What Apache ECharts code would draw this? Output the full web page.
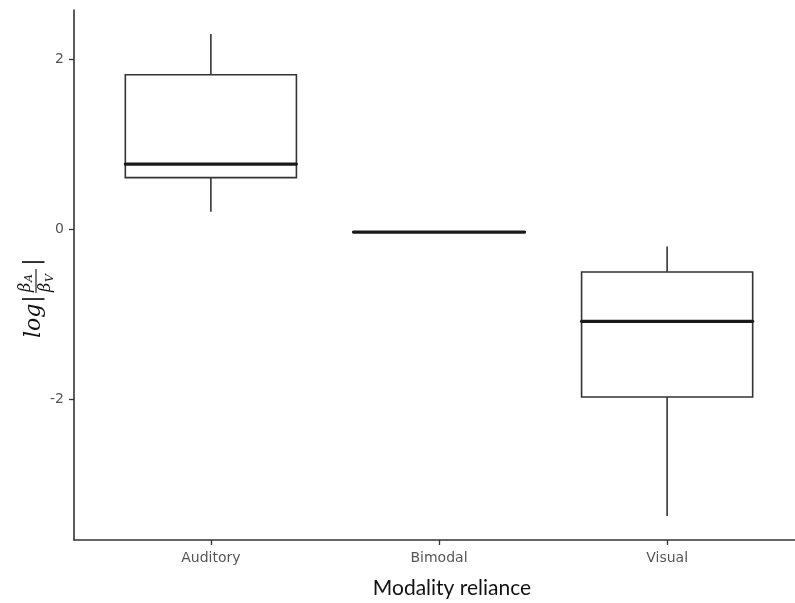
<!DOCTYPE html>
<html>
<head>
<meta charset="utf-8">
<script src="https://cdn.jsdelivr.net/npm/echarts@6/dist/echarts.min.js"></script>
<style>
  html, body { margin: 0; padding: 0; background: #fff; }
  #chart { width: 795px; height: 603px; }
</style>
</head>
<body>
<div id="chart"></div>
<script>
// Modality groups and their box-plot summaries of log|βA/βV|
const categories = ['Auditory', 'Bimodal', 'Visual'];
const lowerWhisker = [0.21, -0.03, -3.37];
const firstQuartile = [0.61, -0.03, -1.97];
const medians = [0.77, -0.03, -1.08];
const thirdQuartile = [1.82, -0.03, -0.50];
const upperWhisker = [2.30, -0.03, -0.20];
const yTicks = [-2, 0, 2];
const xPositions = [1, 2, 3];

const boxData = categories.map((c, i) => [
  xPositions[i], lowerWhisker[i], firstQuartile[i], medians[i], thirdQuartile[i], upperWhisker[i]
]);

const chart = echarts.init(document.getElementById('chart'), null, { renderer: 'canvas' });

function renderBox(params, api) {
  const x = api.value(0);
  const lo = api.coord([x, api.value(1)]);
  const q1 = api.coord([x, api.value(2)]);
  const med = api.coord([x, api.value(3)]);
  const q3 = api.coord([x, api.value(4)]);
  const hi = api.coord([x, api.value(5)]);
  const half = api.size([0.75, 0])[0] / 2;
  const edge = { stroke: '#333333', lineWidth: 1.6 };
  return {
    type: 'group',
    children: [
      { type: 'line', shape: { x1: hi[0], y1: hi[1], x2: q3[0], y2: q3[1] }, style: edge },
      { type: 'line', shape: { x1: q1[0], y1: q1[1], x2: lo[0], y2: lo[1] }, style: edge },
      { type: 'rect', shape: { x: q3[0] - half, y: q3[1], width: half * 2, height: q1[1] - q3[1] },
        style: { fill: '#ffffff', stroke: '#333333', lineWidth: 1.6 } },
      { type: 'line', shape: { x1: med[0] - half, y1: med[1], x2: med[0] + half, y2: med[1] },
        style: { stroke: '#1a1a1a', lineWidth: 3.2, lineCap: 'round' } }
    ]
  };
}

const labelFont = 'DejaVu Sans';
const mathFont = "'DejaVu Serif', serif";

const option = {
  backgroundColor: '#ffffff',
  animation: false,
  grid: { left: 74, width: 730, top: 10, bottom: 63, containLabel: false, outerBoundsMode: 'none' },
  xAxis: {
    type: 'value',
    min: 0.4,
    max: 3.6,
    name: 'Modality reliance',
    nameLocation: 'middle',
    nameGap: 38,
    nameTextStyle: { fontFamily: 'Lato', fontSize: 21, color: '#111111', padding: [0, 0, 0, 26] },
    axisLine: { show: true, onZero: false, lineStyle: { color: '#333333', width: 1.6 } },
    axisTick: { show: true, customValues: xPositions, length: 5, lineStyle: { color: '#333333', width: 1.3 } },
    axisLabel: {
      customValues: xPositions,
      formatter: v => categories[Math.round(v) - 1] || '',
      color: '#555555', fontFamily: labelFont, fontSize: 14, margin: 11
    },
    splitLine: { show: false }
  },
  yAxis: {
    type: 'value',
    min: -3.653,
    max: 2.582,
    axisLine: { show: true, onZero: false, lineStyle: { color: '#333333', width: 1.6 } },
    axisTick: { show: true, customValues: yTicks, length: 5, lineStyle: { color: '#333333', width: 1.3 } },
    axisLabel: {
      customValues: yTicks,
      formatter: v => String(v),
      color: '#555555', fontFamily: labelFont, fontSize: 14, margin: 10
    },
    splitLine: { show: false }
  },
  series: [{
    type: 'custom',
    renderItem: renderBox,
    encode: { x: 0, y: [1, 2, 3, 4, 5] },
    data: boxData,
    clip: false
  }],
  graphic: [{
    // y-axis title: log | βA / βV |, read bottom to top
    type: 'group',
    x: 34,
    y: 294,
    rotation: Math.PI / 2,
    children: [
      { type: 'text', x: -44, y: 0, style: { text: 'log', font: 'italic 22px ' + mathFont, fill: '#111', align: 'left', verticalAlign: 'middle' } },
      { type: 'text', x: -5, y: -1, style: { text: '|', font: '22px ' + mathFont, fill: '#111', align: 'center', verticalAlign: 'middle' } },
      { type: 'text', x: 2, y: -8, style: { text: 'β', font: 'italic 16px ' + mathFont, fill: '#111', align: 'left', verticalAlign: 'middle' } },
      { type: 'text', x: 12, y: -5, style: { text: 'A', font: 'italic 11px ' + mathFont, fill: '#111', align: 'left', verticalAlign: 'middle' } },
      { type: 'line', shape: { x1: 1, y1: 2, x2: 25, y2: 2 }, style: { stroke: '#111', lineWidth: 1.1 } },
      { type: 'text', x: 2, y: 12, style: { text: 'β', font: 'italic 16px ' + mathFont, fill: '#111', align: 'left', verticalAlign: 'middle' } },
      { type: 'text', x: 12, y: 16, style: { text: 'V', font: 'italic 11px ' + mathFont, fill: '#111', align: 'left', verticalAlign: 'middle' } },
      { type: 'text', x: 32, y: -1, style: { text: '|', font: '22px ' + mathFont, fill: '#111', align: 'center', verticalAlign: 'middle' } }
    ]
  }]
};

chart.setOption(option);
</script>
</body>
</html>
